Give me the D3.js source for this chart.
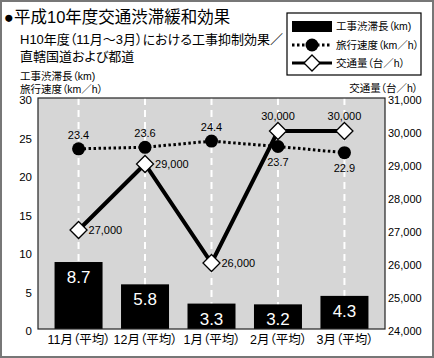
<!DOCTYPE html>
<html><head><meta charset="utf-8">
<script src="https://cdn.jsdelivr.net/npm/d3@7"></script>
<style>
body{margin:0;background:#fff;}
text{font-family:"Liberation Sans","Noto Sans CJK JP",sans-serif;fill:#000;font-feature-settings:"palt";}
</style></head>
<body>
<svg id="c" width="434" height="358"></svg>
<script>
const categories = ["11月（平均）","12月（平均）","1月（平均）","2月（平均）","3月（平均）"];
const congestion = [8.7, 5.8, 3.3, 3.2, 4.3];
const speed = [23.4, 23.6, 24.4, 23.7, 22.9];
const traffic = [27000, 29000, 26000, 30000, 30000];
const leftTicks = [0,5,10,15,20,25,30];
const rightTicks = [24000,25000,26000,27000,28000,29000,30000,31000];

const svg = d3.select("#c");
const L=38, R=385, T=98, B=329;

svg.append("rect").attr("x",1).attr("y",1).attr("width",432).attr("height",356)
  .attr("fill","#fff").attr("stroke","#777").attr("stroke-width",2);

const x = d3.scalePoint().domain(categories).range([L,R]).padding(0.61);
const yL = d3.scaleLinear().domain([0,30]).range([B,T]);
const yR = d3.scaleLinear().domain([24000,31000]).range([B,T]);

// Titles
svg.append("text").attr("x",4).attr("y",23).attr("font-size",16.5).text("●平成10年度交通渋滞緩和効果");
svg.append("text").attr("x",20).attr("y",44).attr("font-size",13).text("H10年度（11月～3月）における工事抑制効果／");
svg.append("text").attr("x",20).attr("y",61).attr("font-size",13).text("直轄国道および都道");
svg.append("text").attr("x",20).attr("y",80).attr("font-size",10.5).text("工事渋滞長（km)");
svg.append("text").attr("x",20).attr("y",93).attr("font-size",10.5).text("旅行速度（km／h）");
svg.append("text").attr("x",418).attr("y",92).attr("font-size",10.5).attr("text-anchor","end").text("交通量（台／h）");

// plot bg
svg.append("rect").attr("x",L).attr("y",T).attr("width",R-L).attr("height",B-T).attr("fill","#d6d6d6");

// dashed verticals
svg.append("g").selectAll("line").data(categories).join("line")
  .attr("x1",d=>x(d)).attr("x2",d=>x(d)).attr("y1",T).attr("y2",B)
  .attr("stroke","#fff").attr("stroke-width",2).attr("stroke-dasharray","7,5");

// bars
const bw=48;
svg.append("g").selectAll("rect").data(congestion).join("rect")
  .attr("x",(d,i)=>x(categories[i])-bw/2).attr("width",bw)
  .attr("y",d=>yL(d)).attr("height",d=>B-yL(d)).attr("fill","#000");
svg.append("g").selectAll("text").data(congestion).join("text")
  .attr("x",(d,i)=>x(categories[i])).attr("y",d=>yL(d)+21)
  .attr("text-anchor","middle").attr("font-size",17).style("fill","#fff")
  .text(d=>d.toFixed(1));

// frame
svg.append("rect").attr("x",L).attr("y",T).attr("width",R-L).attr("height",B-T)
  .attr("fill","none").attr("stroke","#222").attr("stroke-width",1.2);

// axes
const gl = svg.append("g").attr("transform",`translate(${L},2)`)
  .call(d3.axisLeft(yL).tickValues(leftTicks).tickSize(0).tickPadding(6));
gl.select(".domain").remove();
gl.selectAll("text").attr("font-size",11.5).style("font-family","Liberation Sans, sans-serif");
const gr = svg.append("g").attr("transform",`translate(${R},2)`)
  .call(d3.axisRight(yR).tickValues(rightTicks).tickSize(0).tickPadding(3).tickFormat(d3.format(",")));
gr.select(".domain").remove();
gr.selectAll("text").attr("font-size",11).style("font-family","Liberation Sans, sans-serif");
const gx = svg.append("g").attr("transform",`translate(0,${B})`)
  .call(d3.axisBottom(x).tickSize(0).tickPadding(6));
gx.select(".domain").remove();
gx.selectAll("text").attr("font-size",12.5).style("font-family","Liberation Sans, Noto Sans CJK JP, sans-serif");

// speed line
const lineS = d3.line().x((d,i)=>x(categories[i])).y(d=>yL(d));
svg.append("path").datum(speed).attr("d",lineS).attr("fill","none")
  .attr("stroke","#000").attr("stroke-width",3).attr("stroke-dasharray","2.5,2.5");

// traffic line
const lineT = d3.line().x((d,i)=>x(categories[i])).y(d=>yR(d));
svg.append("path").datum(traffic).attr("d",lineT).attr("fill","none")
  .attr("stroke","#000").attr("stroke-width",4);

// circles
svg.append("g").selectAll("circle").data(speed).join("circle")
  .attr("cx",(d,i)=>x(categories[i])).attr("cy",d=>yL(d)).attr("r",6.5).attr("fill","#000");
const sBelow=[false,false,false,true,true];
svg.append("g").selectAll("text").data(speed).join("text")
  .attr("x",(d,i)=>x(categories[i])).attr("y",(d,i)=>sBelow[i]?yL(d)+19:yL(d)-10)
  .attr("text-anchor","middle").attr("font-size",11).text(d=>d.toFixed(1));

// diamonds
const ds=8.5;
svg.append("g").selectAll("path").data(traffic).join("path")
  .attr("transform",(d,i)=>`translate(${x(categories[i])},${yR(d)})`)
  .attr("d",`M0,${-ds}L${ds},0L0,${ds}L${-ds},0Z`)
  .attr("fill","#fff").attr("stroke","#000").attr("stroke-width",1.3);
const tAbove=[false,false,false,true,true];
svg.append("g").selectAll("text").data(traffic).join("text")
  .attr("x",(d,i)=>tAbove[i]?x(categories[i]):x(categories[i])+10)
  .attr("y",(d,i)=>tAbove[i]?yR(d)-11:yR(d)+4)
  .attr("text-anchor",(d,i)=>tAbove[i]?"middle":"start")
  .attr("font-size",11).text(d=>d3.format(",")(d));

// legend
const lg = svg.append("g");
lg.append("rect").attr("x",287).attr("y",13).attr("width",134).attr("height",62)
  .attr("fill","#fff").attr("stroke","#000").attr("stroke-width",1.2);
lg.append("rect").attr("x",292).attr("y",21).attr("width",40).attr("height",11).attr("fill","#000");
lg.append("line").attr("x1",292).attr("x2",332).attr("y1",45).attr("y2",45)
  .attr("stroke","#000").attr("stroke-width",3).attr("stroke-dasharray","2.5,2.5");
lg.append("circle").attr("cx",312).attr("cy",45).attr("r",6.5).attr("fill","#000");
lg.append("line").attr("x1",292).attr("x2",332).attr("y1",63).attr("y2",63)
  .attr("stroke","#000").attr("stroke-width",3);
lg.append("path").attr("transform","translate(312,63)")
  .attr("d",`M0,-8L8,0L0,8L-8,0Z`).attr("fill","#fff").attr("stroke","#000").attr("stroke-width",1.3);
const legendLabels=["工事渋滞長（km)","旅行速度（km／h）","交通量（台／h）"];
lg.selectAll("text.l").data(legendLabels).join("text").attr("class","l")
  .attr("x",336).attr("y",(d,i)=>30+i*18.5).attr("font-size",10.5).text(d=>d);
</script>
</body></html>
